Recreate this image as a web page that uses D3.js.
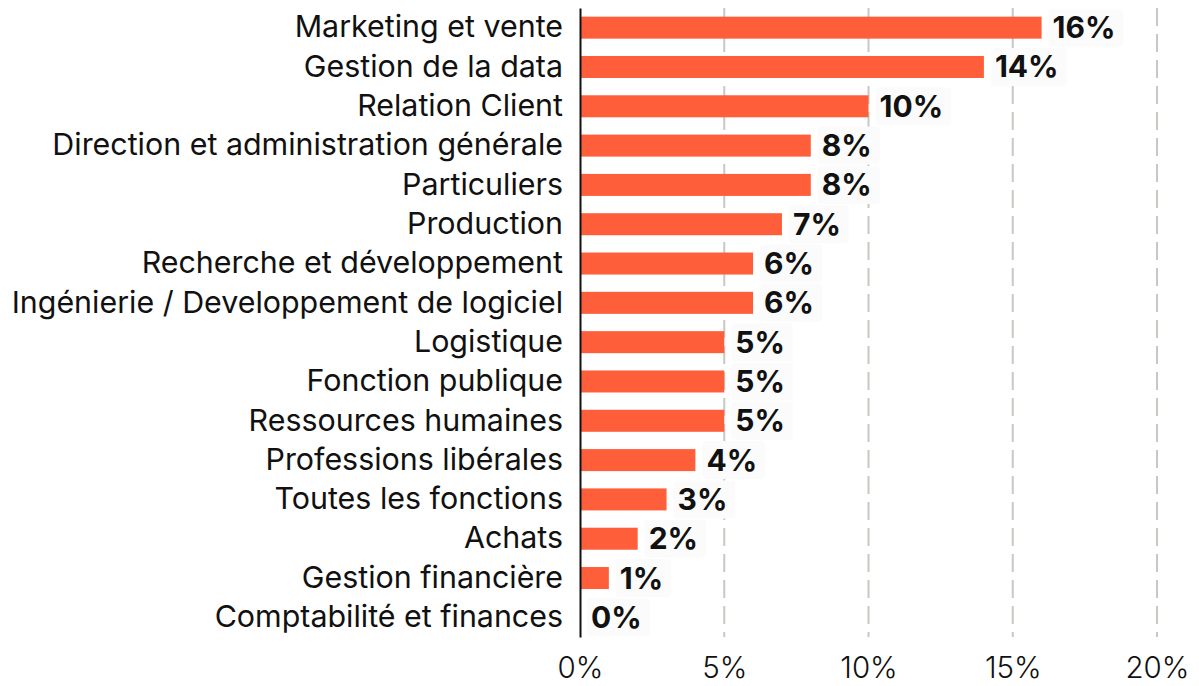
<!DOCTYPE html>
<html>
<head>
<meta charset="utf-8">
<script src="https://cdn.jsdelivr.net/npm/d3@7"></script>
<style>
  body { margin: 0; background: #fff; }
  svg { font-family: Inter, "Noto Sans", sans-serif; }
</style>
</head>
<body>
<div class="contents"></div>
<script>
var categories = [
    "Marketing et vente",
    "Gestion de la data",
    "Relation Client",
    "Direction et administration générale",
    "Particuliers",
    "Production",
    "Recherche et développement",
    "Ingénierie / Developpement de logiciel",
    "Logistique",
    "Fonction publique",
    "Ressources humaines",
    "Professions libérales",
    "Toutes les fonctions",
    "Achats",
    "Gestion financière",
    "Comptabilité et finances"
];
var values = [16, 14, 10, 8, 8, 7, 6, 6, 5, 5, 5, 4, 3, 2, 1, 0];
var ticks = [0, 5, 10, 15, 20];

var svgWidth = 1199, svgHeight = 686;
var margin = { top: 8, right: 42, bottom: 49, left: 580 };
var width = svgWidth - margin.left - margin.right,
    height = svgHeight - margin.top - margin.bottom;

var svg = d3.select(".contents").append("svg")
    .attr("width", svgWidth)
    .attr("height", svgHeight)
    .append("g")
    .attr("transform", "translate(" + margin.left + "," + margin.top + ")");

var x = d3.scaleLinear().domain([0, 20]).range([0, width]);
var y = d3.scaleBand().domain(categories).range([0, height]).paddingInner(0.44).paddingOuter(0.22);

// grid
svg.selectAll(".grid").data(ticks.slice(1)).enter().append("line")
    .attr("class", "grid")
    .attr("x1", d => x(d)).attr("x2", d => x(d))
    .attr("y1", 0).attr("y2", height)
    .attr("stroke", "#c8c8c2")
    .attr("stroke-width", 2)
    .attr("stroke-dasharray", "18,8");

// x axis labels
svg.append("g")
    .attr("transform", "translate(0," + height + ")")
    .call(d3.axisBottom(x).tickValues(ticks).tickFormat(d => d + "%").tickSize(0).tickPadding(20))
    .call(g => g.select(".domain").remove())
    .selectAll("text")
    .attr("font-family", "Inter, sans-serif")
    .attr("font-size", 29.5)
    .attr("font-weight", 300)
    .attr("fill", "#111");

// bars
svg.selectAll(".bar").data(values).enter().append("rect")
    .attr("class", "bar")
    .attr("x", 0)
    .attr("y", (d, i) => y(categories[i]))
    .attr("width", d => x(d))
    .attr("height", y.bandwidth())
    .attr("fill", "#ff5e3b");

// y axis line + labels
svg.append("g")
    .call(d3.axisLeft(y).tickSize(0).tickPadding(17))
    .call(g => g.select(".domain").attr("stroke", "#111").attr("stroke-width", 2))
    .selectAll("text")
    .attr("font-family", "Inter, sans-serif")
    .attr("font-size", 30.4)
    .attr("fill", "#111");

// value labels
var lab = svg.selectAll(".val").data(values).enter().append("g")
    .attr("class", "val")
    .attr("transform", (d, i) => "translate(" + (x(d) + 7) + "," + (y(categories[i]) + y.bandwidth() / 2) + ")");

var box = lab.append("rect")
    .attr("x", 0).attr("y", -19)
    .attr("height", 38)
    .attr("rx", 4)
    .attr("fill", "#fbfbfb");

var txt = lab.append("text")
    .attr("x", 4)
    .attr("dy", "0.35em")
    .attr("font-family", "Inter, sans-serif")
    .attr("font-size", 30)
    .attr("font-weight", 700)
    .attr("fill", "#111")
    .text(d => d + "%");

txt.each(function(d, i) {
    box.filter((e, j) => j === i).attr("width", this.getComputedTextLength() + 12);
});
</script>
</body>
</html>
